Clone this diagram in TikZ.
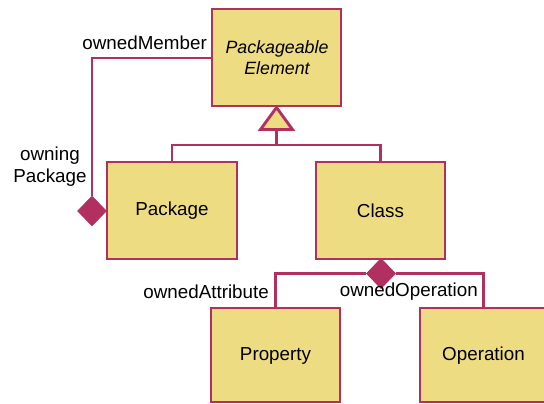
\documentclass[tikz,border=0pt]{standalone}
\usepackage{fontspec}
\setmainfont{Liberation Sans}
\usetikzlibrary{shapes.geometric}
\definecolor{umlfill}{RGB}{238,220,130}
\definecolor{umlline}{RGB}{178,48,96}
\tikzset{
  cls/.style={draw=umlline, fill=umlfill, line width=2.9pt, inner sep=0pt},
  link/.style={draw=umlline, line width=2.9pt},
  comp/.style={diamond, fill=umlline, draw=umlline, line width=0.5pt, inner sep=0pt, minimum width=29pt, minimum height=30pt},
  role/.style={font=\fontsize{18.8}{22}\selectfont, inner sep=0pt},
  lbl/.style={font=\fontsize{18.8}{22}\selectfont, align=center}
}
\begin{document}
\begin{tikzpicture}[x=1pt, y=-1pt]
\useasboundingbox (0,0) rectangle (544,404);
\clip (0,0) rectangle (544,404);
\fill[white] (0,0) rectangle (544,404);

% classes
\draw[cls] (212,9) rectangle (341,106);
\node[lbl, font=\fontsize{17.8}{21.5}\selectfont\itshape] (pe) at (277,57.5) {Packageable\\Element};
\coordinate (peW) at (212,58);
\coordinate (peS) at (276.5,107.5);

\draw[cls] (107,162) rectangle (237,259);
\node[lbl] (pkg) at (172,211) {Package};
\coordinate (pkgN) at (172,162);

\draw[cls] (316,162) rectangle (445,259);
\node[lbl] (cls) at (380.5,211) {Class};
\coordinate (clsN) at (380.5,162);

\draw[cls] (211,308) rectangle (340,402);
\node[lbl] (prop) at (275.5,356) {Property};
\coordinate (propN) at (275.5,308);

\draw[cls] (420,308) rectangle (560,402);
\node[lbl] (op) at (483.5,356) {Operation};
\coordinate (opN) at (483.5,308);

% generalization: hollow triangle under the superclass
\draw[link, fill=umlfill, line join=miter] (peS) -- ++(-16,22) coordinate (triL) -- ++(32,0) -- cycle;
\coordinate (triB) at (276.5,129.5);
\draw[link] (triB) -- (276.5,145) coordinate (gj);
\draw[link] (pkgN) |- (gj) -| (clsN);

% ownedMember / owningPackage composition
\node[comp] (dpkg) at (92,211) {};
\draw[link] (dpkg.north) |- (peW);

% ownedAttribute / ownedOperation composition
\node[comp] (dcls) at (381,273.5) {};
\draw[link] (propN) |- (dcls.west);
\draw[link] (opN) |- (dcls.east);
\node[comp] at (381,273.5) {};

% role names
\node[role, anchor=east] (rm) at (207,43) {ownedMember};
\node[role, align=center] (rp) at (50,167) {owning\\Package};
\node[role, anchor=east] (ra) at (269,292) {ownedAttribute};
\node[role, anchor=east] (ro) at (478,292) {ownedOperation};
\end{tikzpicture}
\end{document}
